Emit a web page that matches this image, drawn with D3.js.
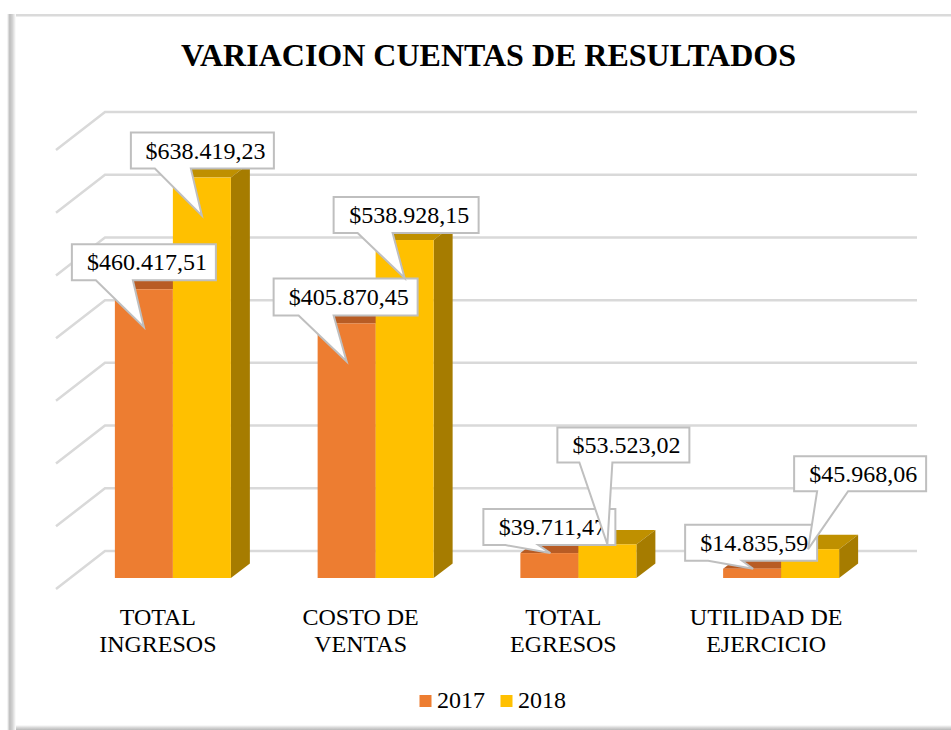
<!DOCTYPE html>
<html><head><meta charset="utf-8">
<script src="https://cdn.jsdelivr.net/npm/d3@7"></script>
<style>html,body{margin:0;padding:0;background:#fff}svg{display:block}text{font-family:"Liberation Serif","Times New Roman",serif;fill:#000}</style>
</head><body><svg id="c" width="951" height="730"></svg>
<script>
const title = "VARIACION CUENTAS DE RESULTADOS";
const categories = [["TOTAL","INGRESOS"],["COSTO DE","VENTAS"],["TOTAL","EGRESOS"],["UTILIDAD DE","EJERCICIO"]];
const years = ["2017","2018"];
const values2017 = [460417.51,405870.45,39711.47,14835.59];
const values2018 = [638419.23,538928.15,53523.02,45968.06];
const labels2017 = ["$460.417,51","$405.870,45","$39.711,47","$14.835,59"];
const labels2018 = ["$638.419,23","$538.928,15","$53.523,02","$45.968,06"];
const gridTicks = [0,100000,200000,300000,400000,500000,600000,700000];
// callout layout, relative to the tip of each callout
const calloutBox2017 = [[-72,-83,144,36],[-73,-83,144,37],[-67,-44,132,36],[-68,-44,132,36]];
const calloutBox2018 = [[-71,-83,143,36],[-71,-81,145,36],[-50,-117,132,35],[-14,-93,132,35]];
const calloutBase2017 = [[-48,-11],[-48,-13],[-45,-12],[-45,-11]];
const calloutBase2018 = [[-47,-11],[-47,-12],[-28,5],[9,40]];
const tipShift2017 = [0,0,1,1];
const tipShift2018 = [0,0,0,-2];

const svg = d3.select("#c");
const defs = svg.append("defs");
const gl = defs.append("linearGradient").attr("id","fl");
[["0","#ffffff"],["0.3","#bdbdbd"],["0.6","#d2d2d2"],["1","#ffffff"]].forEach(s=>gl.append("stop").attr("offset",s[0]).attr("stop-color",s[1]));
const gb = defs.append("linearGradient").attr("id","fb").attr("x2",0).attr("y2",1);
[["0","#ffffff"],["0.5","#d8d8d8"],["1","#b8b8b8"]].forEach(s=>gb.append("stop").attr("offset",s[0]).attr("stop-color",s[1]));

// frame
svg.append("rect").attr("x",8).attr("y",14).attr("width",943).attr("height",2.5).attr("fill","#dadada");
svg.append("rect").attr("x",7).attr("y",14).attr("width",9).attr("height",716).attr("fill","url(#fl)");
svg.append("rect").attr("x",16).attr("y",725).attr("width",935).attr("height",5).attr("fill","url(#fb)");

const depth = {gx:-49, gy:38, bx:19, by:-14.5};
const yGrid = d3.scaleLinear().domain([0,700000]).range([551,112]);
const yBar = d3.scaleLinear().domain([0,700000]).range([578,139]);
const x0 = d3.scaleBand().domain(d3.range(4)).range([71.5,882.5]);
const barW = 58;
const xBar = (i,s)=>x0(i)+x0.bandwidth()/2-barW+s*barW;
const line = d3.line();

// gridlines with left wall
svg.append("g").selectAll("path").data(gridTicks).join("path")
 .attr("d",t=>line([[105+depth.gx,yGrid(t)+depth.gy],[105,yGrid(t)],[917,yGrid(t)]]))
 .attr("fill","none").attr("stroke","#d9d9d9").attr("stroke-width",2.5);

// 3D bars
const colors = [{f:"#ED7D31",t:"#B85C24",s:"#A85420"},{f:"#FFC000",t:"#BF9000",s:"#A67C00"}];
[values2017,values2018].forEach((vals,s)=>{
  const g = svg.append("g");
  vals.forEach((v,i)=>{
    const x=xBar(i,s), y=yBar(v), b=yBar(0), c=colors[s];
    g.append("path").attr("fill",c.t).attr("d",line([[x,y],[x+depth.bx,y+depth.by],[x+barW+depth.bx,y+depth.by],[x+barW,y]])+"Z");
    g.append("path").attr("fill",c.s).attr("d",line([[x+barW,y],[x+barW+depth.bx,y+depth.by],[x+barW+depth.bx,b+depth.by],[x+barW,b]])+"Z");
    g.append("rect").attr("x",x).attr("y",y).attr("width",barW).attr("height",b-y).attr("fill",c.f);
  });
});

// callouts
function callouts(vals,labels,boxes,bases,shifts,s){
  const g = svg.append("g");
  vals.forEach((v,i)=>{
    const tx=xBar(i,s)+barW/2+shifts[i], ty=yBar(v)+(i>=2?0:38);
    const [dx,dy,w,h]=boxes[i], [b0,b1]=bases[i];
    const L=tx+dx,T=ty+dy,R=L+w,B=T+h;
    g.append("path").attr("fill","#fff").attr("stroke","#bfbfbf").attr("stroke-width",2).attr("stroke-linejoin","miter")
     .attr("d",line([[L,T],[R,T],[R,B],[tx+b1,B],[tx,ty],[tx+b0,B],[L,B]])+"Z");
    g.append("text").attr("x",L+w/2+3).attr("y",T+h/2+8).attr("text-anchor","middle").attr("font-size",24).text(labels[i]);
  });
}
callouts(values2017,labels2017,calloutBox2017,calloutBase2017,tipShift2017,0);
callouts(values2018,labels2018,calloutBox2018,calloutBase2018,tipShift2018,1);

// title
svg.append("text").attr("x",488.5).attr("y",66).attr("text-anchor","middle").attr("font-size",32).attr("font-weight","bold").text(title);

// category labels
const gc = svg.append("g").attr("text-anchor","middle");
categories.forEach((c,i)=>{
  c.forEach((t,j)=>gc.append("text").attr("x",x0(i)+x0.bandwidth()/2-15).attr("y",625+j*27).attr("font-size",24).text(t));
});

// legend
const legendX = d3.scalePoint().domain(years).range([419.5,500.5]);
years.forEach((yr,s)=>{
  svg.append("rect").attr("x",legendX(yr)).attr("y",695).attr("width",12).attr("height",12).attr("fill",colors[s].f);
  svg.append("text").attr("x",legendX(yr)+17.5).attr("y",708).attr("font-size",24).text(yr);
});
</script></body></html>
